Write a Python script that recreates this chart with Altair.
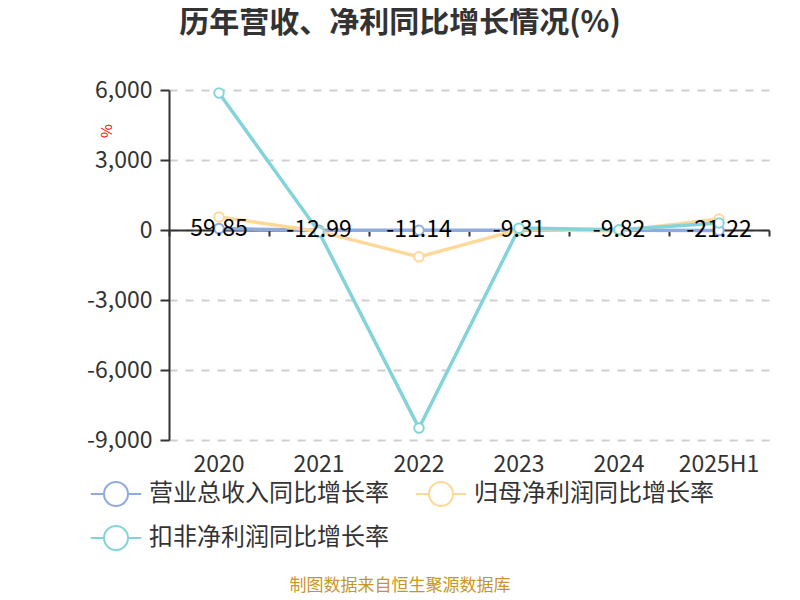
import altair as alt
import pandas as pd

FONT = "Noto Sans CJK SC"

categories = ["2020", "2021", "2022", "2023", "2024", "2025H1"]
series_names = ["营业总收入同比增长率", "归母净利润同比增长率", "扣非净利润同比增长率"]
revenue_growth = [59.85, -12.99, -11.14, -9.31, -9.82, -21.22]
parent_profit_growth = [560, -60, -1150, 20, -40, 470]
deducted_profit_growth = [5870, -90, -8490, 80, 10, 300]
series_colors = ["#8FAADC", "#FDD898", "#82D4DA"]
y_ticks = [-9000, -6000, -3000, 0, 3000, 6000]

title_text = "历年营收、净利同比增长情况(%)"
unit_text = "%"
footer_text = "制图数据来自恒生聚源数据库"

rows = []
for name, vals in zip(series_names, [revenue_growth, parent_profit_growth, deducted_profit_growth]):
    for c, v in zip(categories, vals):
        rows.append({"year": c, "series": name, "value": v})
df = pd.DataFrame(rows)
label_df = pd.DataFrame({
    "year": categories,
    "value": revenue_growth,
    "label": [f"{v:.2f}" for v in revenue_growth],
})

x_scale = alt.Scale(type="band", domain=categories, paddingInner=0, paddingOuter=0)
y_scale = alt.Scale(domain=[-9000, 6000], nice=False, zero=False)

y_axis = alt.Axis(
    title=None, values=y_ticks,
    labelExpr="replace(format(datum.value, ','), '\u2212', '-')",
    labelFontSize=23, labelColor="#333", labelFont=FONT, labelPadding=8,
    domain=True, domainColor="#333", domainWidth=2,
    ticks=True, tickColor="#333", tickWidth=2, tickSize=9,
    grid=True, gridColor="#cfcfcf", gridDash=[8, 8], gridWidth=2,
)
y_enc = alt.Y("value:Q", scale=y_scale, axis=y_axis)

x_main = alt.X("year:N", scale=x_scale, sort=categories, axis=alt.Axis(
    title=None, orient="bottom", labelFontSize=23, labelColor="#333", labelAngle=0, labelFont=FONT,
    domain=False, ticks=False, labelPadding=13, grid=False))
x_zero = alt.X("year:N", scale=x_scale, sort=categories, axis=alt.Axis(
    title=None, orient="bottom", labels=False, domain=True, domainColor="#333", domainWidth=2,
    ticks=True, tickColor="#333", tickWidth=2, tickSize=6, tickBand="extent",
    offset=-210, grid=False))

legend_path = "M-2.1,0L-1,0M1,0L2.1,0M-1,0A1,1 0 1,1 1,0A1,1 0 1,1 -1,0"
color_scale = alt.Scale(domain=series_names, range=series_colors)

lines = alt.Chart(df).mark_line(strokeWidth=3.5).encode(
    x=x_main, y=y_enc,
    color=alt.Color("series:N", scale=color_scale, legend=alt.Legend(
        title=None, orient="none", legendX=-66, legendY=391, direction="horizontal",
        columns=2, columnPadding=22, rowPadding=12, symbolType=legend_path,
        symbolSize=576, symbolStrokeWidth=2, symbolFillColor="white",
        labelFontSize=24, labelFont=FONT, labelColor="#333", labelOffset=20,
        padding=0, labelLimit=400)),
)

points = alt.Chart(df).mark_point(filled=False, fill="white", size=90, strokeWidth=2, opacity=1).encode(
    x=x_zero, y=y_enc,
    color=alt.Color("series:N", scale=color_scale, legend=None),
)

labels = alt.Chart(label_df).mark_text(fontSize=23, color="#000", baseline="middle",
                                       align="center", font=FONT).encode(
    x=alt.X("year:N", scale=x_scale, sort=categories, axis=None), y=y_enc, text="label:N")

title = alt.Chart(pd.DataFrame({"t": [title_text]})).mark_text(
    fontSize=30, fontWeight="bold", color="#333", font=FONT, align="center", baseline="middle"
).encode(text="t:N", x=alt.value(231), y=alt.value(-67))

unit = alt.Chart(pd.DataFrame({"t": [unit_text]})).mark_text(
    fontSize=15, color="red", font=FONT, align="center", baseline="middle", angle=270
).encode(text="t:N", x=alt.value(-62), y=alt.value(41))

footer = alt.Chart(pd.DataFrame({"t": [footer_text]})).mark_text(
    fontSize=17, color="#C8952B", font=FONT, align="center", baseline="middle"
).encode(text="t:N", x=alt.value(231), y=alt.value(496))

chart = alt.layer(lines, points, labels, title, unit, footer).resolve_axis(x="independent").properties(
    width=600, height=350,
    autosize=alt.AutoSizeParams(type="none"),
    padding={"left": 161, "top": 82, "right": 23, "bottom": 154},
).configure_view(stroke=None)

chart.save("out.html", embed_options={"renderer": "svg", "actions": False})
